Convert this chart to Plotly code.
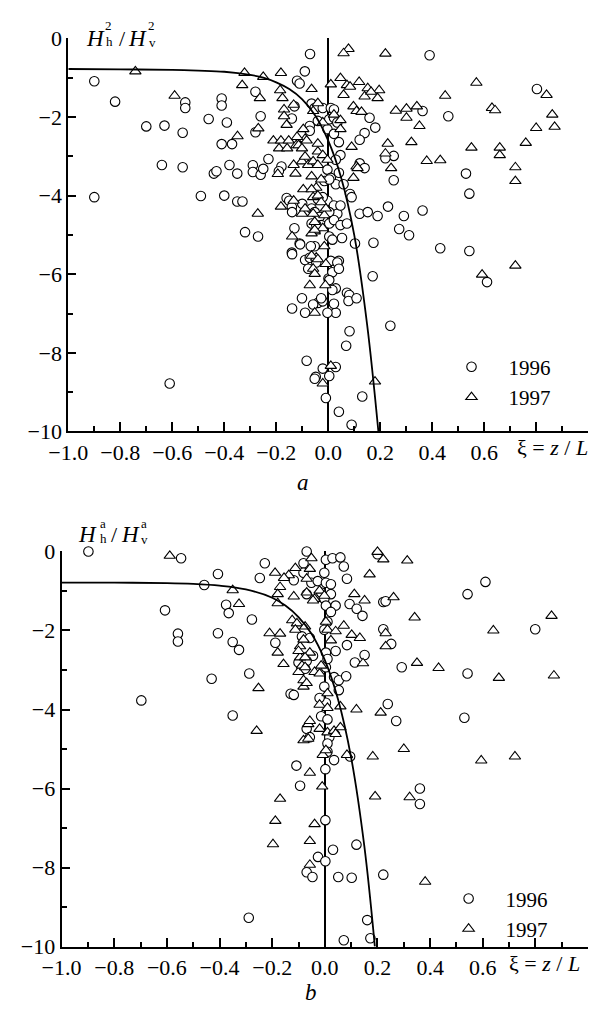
import plotly.graph_objects as go

# ---------------- data ----------------
top_1996 = [
    (-0.90,-1.09),(-0.82,-1.61),(-0.70,-2.24),(-0.63,-2.22),(-0.56,-2.40),(-0.55,-1.63),(-0.55,-1.77),
    (-0.46,-2.05),(-0.41,-1.53),(-0.41,-1.71),(-0.39,-2.14),(-0.41,-2.69),(-0.37,-2.69),(-0.64,-3.22),
    (-0.56,-3.28),(-0.90,-4.04),(-0.49,-4.01),(-0.40,-4.00),(-0.44,-3.44),(-0.43,-3.38),(-0.38,-3.22),
    (-0.35,-3.44),(-0.29,-3.23),(-0.29,-3.40),(-0.26,-3.47),(-0.23,-3.07),(-0.25,-3.32),(-0.18,-3.26),
    (-0.19,-3.38),(-0.35,-4.15),(-0.33,-4.15),(-0.32,-4.93),(-0.27,-5.04),(-0.28,-1.36),(-0.26,-1.98),
    (-0.28,-2.39),(-0.12,-1.08),(-0.11,-1.15),(-0.09,-0.84),(-0.07,-0.40),(-0.13,-1.73),(-0.14,-2.04),
    (-0.16,-4.06),(-0.15,-4.13),(-0.14,-4.29),(-0.10,-4.21),(-0.13,-4.83),(-0.11,-5.22),(-0.14,-5.45),
    (-0.61,-8.78),
    (-0.064,-1.66),(-0.052,-1.77),(-0.021,-1.77),(0.010,-1.77),(0.022,-1.81),(0.004,-2.06),(0.022,-2.02),
    (0.035,-2.14),(-0.071,-2.23),(-0.071,-2.35),(-0.040,-2.10),(-0.003,-2.31),(0.022,-2.43),(0.041,-2.64),
    (0.159,-2.02),(0.181,-2.27),(0.140,-2.41),(0.121,-2.58),(0.047,-2.97),(0.029,-3.09),(0.121,-3.18),
    (0.140,-3.30),(-0.003,-3.34),(0.010,-3.55),(0.041,-3.42),(0.029,-3.71),(0.059,-3.71),(0.084,-3.96),
    (0.090,-4.04),(-0.015,-3.63),(0.004,-3.59),(0.121,-4.46),(0.152,-4.42),(0.190,-4.52),(-0.139,-4.42),
    (-0.064,-4.33),(-0.052,-4.42),(-0.033,-4.54),(-0.003,-4.13),(0.022,-4.25),(0.035,-4.46),(0.047,-4.25),
    (-0.027,-4.75),(0.004,-4.71),(0.022,-4.62),(0.047,-4.75),(0.072,-4.71),(-0.064,-4.71),(-0.046,-4.75),
    (0.004,-4.42),(-0.040,-4.09),(-0.021,-4.04),
    (0.390,-0.43),(0.803,-1.29),(0.363,-1.85),(0.462,-1.98),(0.252,-2.99),(0.220,-3.05),(0.252,-3.61),
    (0.530,-3.44),(0.543,-3.95),(0.230,-4.28),(0.291,-4.52),(0.363,-4.38),(0.273,-4.85),(0.311,-5.01),
    (0.174,-5.20),(0.431,-5.34),(0.543,-5.41),(0.103,-5.22),
    (0.611,-6.20),(0.171,-6.05),(0.239,-7.31),(0.082,-7.45),(0.069,-7.82),(-0.083,-8.20),(-0.021,-8.40),
    (0.029,-8.36),(0.004,-8.59),(-0.048,-8.61),(-0.052,-8.66),(-0.009,-9.15),(0.131,-9.11),(0.041,-9.50),
    (0.090,-9.83),(0.072,-6.47),(0.081,-6.53),(0.078,-6.68),(0.109,-6.61),(0.029,-6.98),(-0.003,-6.98),
    (0.022,-6.75),(-0.040,-6.73),(-0.058,-6.77),(-0.089,-6.98),(-0.101,-6.61),(0.029,-6.36),(0.016,-6.40),
    (0.001,-6.11),(-0.089,-5.64),(-0.071,-5.58),(-0.052,-5.29),(0.004,-5.04),(0.016,-5.12),(0.053,-5.08),
    (0.041,-5.66),(0.029,-5.82),(0.016,-5.95),(-0.139,-5.49),(-0.108,-5.24),(-0.067,-5.29),(-0.077,-5.86),
    (-0.046,-5.70),(0.010,-5.66),(0.035,-5.70),(0.041,-5.86),(0.004,-6.15),(-0.139,-6.87),(-0.021,-6.69),
    (-0.027,-6.61),
]
top_1997 = [
    (-0.742,-0.84),(-0.591,-1.46),(-0.322,-0.88),(-0.331,-1.19),(-0.250,-0.98),(-0.263,-1.52),(-0.182,-0.88),
    (-0.185,-1.32),(-0.176,-1.52),(-0.170,-1.81),(-0.170,-1.98),(-0.160,-2.20),(-0.133,-1.69),(-0.269,-2.29),
    (-0.349,-2.49),(-0.211,-2.60),(-0.182,-2.60),(-0.152,-2.60),(-0.189,-2.80),(-0.158,-2.80),(-0.123,-2.72),
    (-0.096,-2.31),(-0.089,-2.56),(-0.194,-3.45),(-0.126,-3.44),(-0.133,-3.22),(-0.096,-3.84),(-0.182,-4.28),
    (-0.133,-4.13),(-0.101,-4.46),(-0.271,-4.46),(-0.139,-5.04),
    (0.078,-0.27),(0.059,-0.38),(-0.064,-1.29),(0.010,-1.17),(0.047,-1.01),(0.072,-1.19),(0.084,-1.23),
    (0.119,-1.11),(0.152,-1.27),(0.140,-1.48),(0.196,-1.32),(0.190,-1.52),(0.165,-1.36),(0.059,-1.44),
    (0.097,-1.73),(0.109,-1.85),(0.128,-1.87),(-0.058,-1.85),(-0.040,-1.65),(-0.021,-2.14),(0.022,-1.94),
    (0.047,-2.08),(0.047,-2.31),(-0.120,-2.51),(-0.114,-2.72),(-0.101,-2.80),(-0.083,-2.60),(-0.040,-2.68),
    (-0.040,-2.88),(0.090,-2.76),(-0.021,-2.97),(-0.003,-3.09),(-0.101,-3.13),(-0.077,-3.22),(-0.058,-3.13),
    (-0.040,-3.22),(-0.089,-3.01),(-0.064,-3.51),(-0.027,-3.59),(-0.046,-3.80),(-0.064,-3.84),(-0.058,-4.04),
    (-0.040,-4.00),(-0.027,-4.17),(0.097,-3.55),(0.109,-3.26),(-0.089,-4.33),(-0.058,-4.46),(-0.015,-4.50),
    (-0.009,-4.33),(-0.052,-4.67),(-0.052,-4.91),(-0.021,-4.83),
    (0.220,-0.39),(0.570,-1.13),(0.840,-1.44),(0.450,-1.46),(0.630,-1.77),(0.642,-1.83),(0.862,-1.94),
    (0.800,-2.28),(0.871,-2.25),(0.260,-1.84),(0.301,-1.79),(0.341,-1.73),(0.301,-2.02),(0.351,-2.23),
    (0.320,-2.64),(0.229,-2.68),(0.220,-2.93),(0.242,-3.30),(0.379,-3.12),(0.431,-3.10),(0.551,-2.78),
    (0.660,-2.78),(0.660,-2.97),(0.760,-2.66),(0.720,-3.28),(0.720,-3.63),(0.113,-3.30),
    (0.592,-6.01),(0.720,-5.78),(0.180,-8.73),(0.010,-8.33),(-0.021,-8.78),(-0.071,-6.28),(-0.011,-6.28),
    (-0.052,-6.98),(-0.058,-5.86),(-0.052,-5.99),(-0.009,-5.74),(-0.015,-5.29),(-0.046,-5.58),(-0.064,-4.96),
    (-0.052,-4.87),(-0.064,-5.53),(-0.040,-5.62),
]
bot_1996 = [
    (-0.898,0.0),(-0.546,-0.17),(-0.406,-0.57),(-0.458,-0.85),(-0.228,-0.30),(-0.247,-0.67),(-0.118,-0.73),
    (-0.081,-0.30),(-0.069,0.0),(-0.607,-1.49),(-0.375,-1.35),(-0.365,-1.56),(-0.277,-1.72),(-0.558,-2.08),
    (-0.558,-2.28),(-0.406,-2.07),(-0.350,-2.29),(-0.326,-2.49),(-0.188,-2.31),(-0.430,-3.22),(-0.287,-3.09),
    (-0.130,-3.60),(-0.118,-3.63),(-0.697,-3.77),(-0.350,-4.15),(-0.100,-2.81),(-0.081,-2.93),
    (0.004,-0.21),(0.029,-0.17),(0.059,-0.15),(0.072,-0.38),(0.084,-0.69),(-0.081,-0.54),(-0.051,-0.79),
    (-0.027,-0.75),(-0.002,-0.54),(0.004,-0.79),(0.023,-0.83),(-0.014,-1.04),(-0.002,-1.20),(0.023,-1.08),
    (0.004,-1.37),(-0.069,-1.08),(0.094,-1.33),(0.121,-1.45),(0.143,-1.63),(0.041,-1.37),(0.023,-1.53),
    (0.010,-1.78),(-0.002,-1.98),(-0.087,-2.15),(-0.057,-2.19),(0.041,-2.52),(0.004,-2.56),(-0.045,-2.64),
    (0.084,-2.37),(-0.069,-2.77),(-0.075,-2.97),(0.004,-2.93),(0.010,-2.72),(0.114,-2.81),(0.151,-2.62),
    (0.035,-3.18),(0.053,-3.26),(0.081,-3.16),(-0.002,-3.42),(0.004,-3.83),(-0.020,-3.71),(-0.014,-4.17),
    (0.010,-4.25),(-0.069,-4.49),(-0.057,-4.70),(0.017,-4.70),(0.010,-4.86),
    (0.200,-0.07),(0.222,-1.28),(0.231,-1.26),(0.222,-1.97),(0.252,-2.34),(0.053,-3.51),(0.292,-2.93),
    (0.542,-1.08),(0.610,-0.77),(0.799,-1.97),(0.542,-3.09),(0.239,-3.86),(0.271,-4.29),(0.530,-4.21),
    (0.035,-5.28),(0.002,-5.51),(-0.094,-5.93),(0.096,-5.19),(0.361,-6.00),(0.361,-6.39),(0.002,-6.80),
    (0.120,-7.42),(0.031,-7.55),(-0.026,-7.73),(0.002,-7.84),(-0.069,-8.12),(-0.047,-8.24),(0.051,-8.24),
    (0.102,-8.26),(0.222,-8.18),(0.161,-9.33),(0.072,-9.84),(0.173,-9.79),(-0.108,-5.42),(-0.289,-9.27),
    (0.010,-5.07),
]
bot_1997 = [
    (-0.589,-0.11),(-0.350,-0.98),(-0.326,-1.33),(-0.189,-0.54),(-0.137,-0.60),(-0.112,-0.42),(-0.155,-0.67),
    (-0.170,-0.90),(-0.179,-1.08),(-0.179,-1.31),(-0.118,-1.14),(-0.069,-0.69),(-0.210,-2.07),(-0.170,-2.08),
    (-0.179,-2.56),(-0.157,-2.85),(-0.252,-3.46),(-0.259,-4.54),(-0.124,-1.74),(-0.106,-1.82),(-0.112,-1.98),
    (-0.075,-1.90),(-0.094,-2.40),(-0.081,-2.23),(-0.094,-2.68),(-0.100,-3.05),(-0.081,-3.42),(-0.081,-4.78),
    (-0.063,-4.37),
    (-0.051,-0.17),(-0.057,-0.44),(-0.069,-1.04),(-0.039,-1.20),(-0.020,-0.99),(-0.002,-1.12),(-0.045,-1.24),
    (0.170,-0.58),(0.112,-1.08),(0.151,-1.24),(0.004,-1.78),(0.010,-1.98),(0.023,-2.25),(0.041,-2.02),
    (0.072,-1.88),(0.102,-2.11),(0.133,-2.19),(-0.057,-2.56),(-0.100,-2.52),(-0.075,-2.68),(-0.087,-2.89),
    (-0.075,-2.93),(-0.039,-3.05),(-0.020,-3.09),(-0.014,-2.89),(0.145,-2.83),(-0.081,-3.26),(-0.069,-3.33),
    (0.010,-3.59),(0.059,-3.92),(0.120,-4.00),(-0.020,-3.88),(0.010,-3.96),(-0.057,-4.29),(-0.063,-4.74),
    (-0.020,-4.49),(0.010,-4.58),(0.035,-4.54),(0.059,-4.45),(0.212,-4.08),
    (0.200,-0.01),(0.222,-0.20),(0.313,-0.23),(0.261,-1.16),(0.341,-1.67),(0.640,-2.00),(0.861,-1.63),
    (0.231,-2.07),(0.231,-2.40),(0.350,-2.82),(0.432,-2.95),(0.661,-3.20),(0.870,-3.14),(0.300,-5.00),
    (-0.008,-5.15),(0.004,-5.03),(0.041,-4.62),(0.084,-5.15),(0.182,-5.19),(0.594,-5.29),(0.722,-5.19),
    (-0.057,-5.60),(-0.010,-5.95),(0.191,-6.20),(0.322,-6.22),(-0.039,-6.90),(-0.057,-7.33),(-0.057,-7.93),
    (0.381,-8.36),(-0.170,-6.26),(-0.188,-6.82),(-0.197,-7.41),
]
# fitted curves
curve_top_x = [-1.0,-0.8,-0.6,-0.5,-0.4,-0.3,-0.25,-0.2,-0.15,-0.1,-0.05,0.0,0.05,0.1,0.15,0.193]
curve_top_y = [-0.78,-0.79,-0.80,-0.82,-0.85,-0.93,-1.0,-1.12,-1.29,-1.55,-1.96,-2.6,-3.55,-5.0,-7.3,-10.0]
curve_bot_x = [-1.0,-0.8,-0.6,-0.5,-0.4,-0.3,-0.2,-0.15,-0.1,-0.05,0.0,0.05,0.1,0.15,0.19]
curve_bot_y = [-0.79,-0.79,-0.80,-0.82,-0.865,-0.96,-1.17,-1.37,-1.66,-2.09,-2.75,-3.74,-5.22,-7.46,-10.0]

x_tickvals = [-1.0,-0.8,-0.6,-0.4,-0.2,0.0,0.2,0.4,0.6,0.8,1.0]
x_ticktext = ["\u22121.0","\u22120.8","\u22120.6","\u22120.4","\u22120.2","0.0","0.2","0.4","0.6","",""]
x_minorvals = [-0.9,-0.7,-0.5,-0.3,-0.1,0.1,0.3,0.5,0.7,0.9]
y_tickvals = [0,-2,-4,-6,-8,-10]
y_ticktext = ["0","\u22122","\u22124","\u22126","\u22128","\u221210"]
y_minorvals = [-1,-3,-5,-7,-9]
series_names = ["1996","1997"]

W, H = 592, 1022
FONT = "Liberation Serif, Times New Roman, serif"

def px(x):
    return x / W

def py(y):
    return 1 - y / H

fig = go.Figure()

panels = [
    dict(c=top_1996, t=top_1997, cx=curve_top_x, cy=curve_top_y, xa="x", ya="y", leg="legend"),
    dict(c=bot_1996, t=bot_1997, cx=curve_bot_x, cy=curve_bot_y, xa="x2", ya="y2", leg="legend2"),
]
for p in panels:
    cx_, cy_ = zip(*p["c"])
    tx_, ty_ = zip(*p["t"])
    fig.add_trace(go.Scatter(x=cx_, y=cy_, mode="markers", name=series_names[0],
                             xaxis=p["xa"], yaxis=p["ya"], legend=p["leg"], cliponaxis=False,
                             marker=dict(symbol="circle", size=9.5, color="white",
                                         line=dict(color="black", width=1.1))))
    fig.add_trace(go.Scatter(x=tx_, y=ty_, mode="markers", name=series_names[1],
                             xaxis=p["xa"], yaxis=p["ya"], legend=p["leg"], cliponaxis=False,
                             marker=dict(symbol="triangle-up", size=10, color="white",
                                         line=dict(color="black", width=1.1))))
    fig.add_trace(go.Scatter(x=p["cx"], y=p["cy"], mode="lines", showlegend=False,
                             xaxis=p["xa"], yaxis=p["ya"], line=dict(color="black", width=1.8, shape="spline")))

axis_common = dict(showgrid=False, showline=True, linecolor="black", linewidth=2,
                   ticks="inside", tickcolor="black", tickwidth=1.5, mirror=False,
                   tickfont=dict(family=FONT, size=22, color="black"))
xcommon = dict(axis_common, range=[-1, 1], tickmode="array", tickvals=x_tickvals, ticktext=x_ticktext,
               ticklen=9, zeroline=True, zerolinecolor="black", zerolinewidth=2,
               minor=dict(tickmode="array", tickvals=x_minorvals, ticks="inside", ticklen=5,
                          tickwidth=1.5, tickcolor="black", showgrid=False))
ycommon = dict(axis_common, range=[-10, 0], tickmode="array", tickvals=y_tickvals, ticktext=y_ticktext,
               ticklen=8, zeroline=False,
               minor=dict(tickmode="array", tickvals=y_minorvals, ticks="inside", ticklen=5,
                          tickwidth=1.5, tickcolor="black", showgrid=False))

leg_common = dict(font=dict(family=FONT, size=21, color="black"), bgcolor="rgba(0,0,0,0)",
                  itemwidth=64, tracegroupgap=0, xanchor="left", yanchor="top")

fig.update_layout(
    width=W, height=H, margin=dict(l=0, r=0, t=0, b=0),
    paper_bgcolor="white", plot_bgcolor="white",
    xaxis=dict(xcommon, domain=[px(50), px(588)], anchor="y"),
    yaxis=dict(ycommon, domain=[py(430), py(27)], anchor="x"),
    xaxis2=dict(xcommon, domain=[px(43), px(588)], anchor="y2"),
    yaxis2=dict(ycommon, domain=[py(958), py(553)], anchor="x2"),
    legend=dict(leg_common, x=px(429), y=py(343)),
    legend2=dict(leg_common, x=px(426), y=py(888)),
)

def ann(x, y, text, size=22, italic=False):
    t = f"<i>{text}</i>" if italic else text
    fig.add_annotation(xref="paper", yref="paper", x=px(x), y=py(y), text=t, showarrow=False,
                       font=dict(family=FONT, size=size, color="black"), xanchor="center", yanchor="middle",
                       borderpad=0)

# y labels (stacked sub/superscripts)
ann(78, 27, "H", 23, True); ann(92, 14, "2", 13); ann(93, 30, "h", 13)
ann(106, 27, "/", 22); ann(122, 27, "H", 23, True); ann(136, 14, "2", 13); ann(137, 31, "v", 13)
ann(70, 536, "H", 23, True); ann(85.5, 524, "a", 13); ann(86.5, 540, "h", 13)
ann(98, 536, "/", 22); ann(114, 536, "H", 23, True); ann(128.5, 524, "a", 13); ann(129, 541, "v", 13)
# x titles
ann(551, 446, "\u03be = <i>z</i> / <i>L</i>", 22)
ann(543, 975, "\u03be = <i>z</i> / <i>L</i>", 22)
# panel letters
ann(293, 482, "a", 23, True)
ann(301, 1005, "b", 23, True)

fig.write_html("out.html")
